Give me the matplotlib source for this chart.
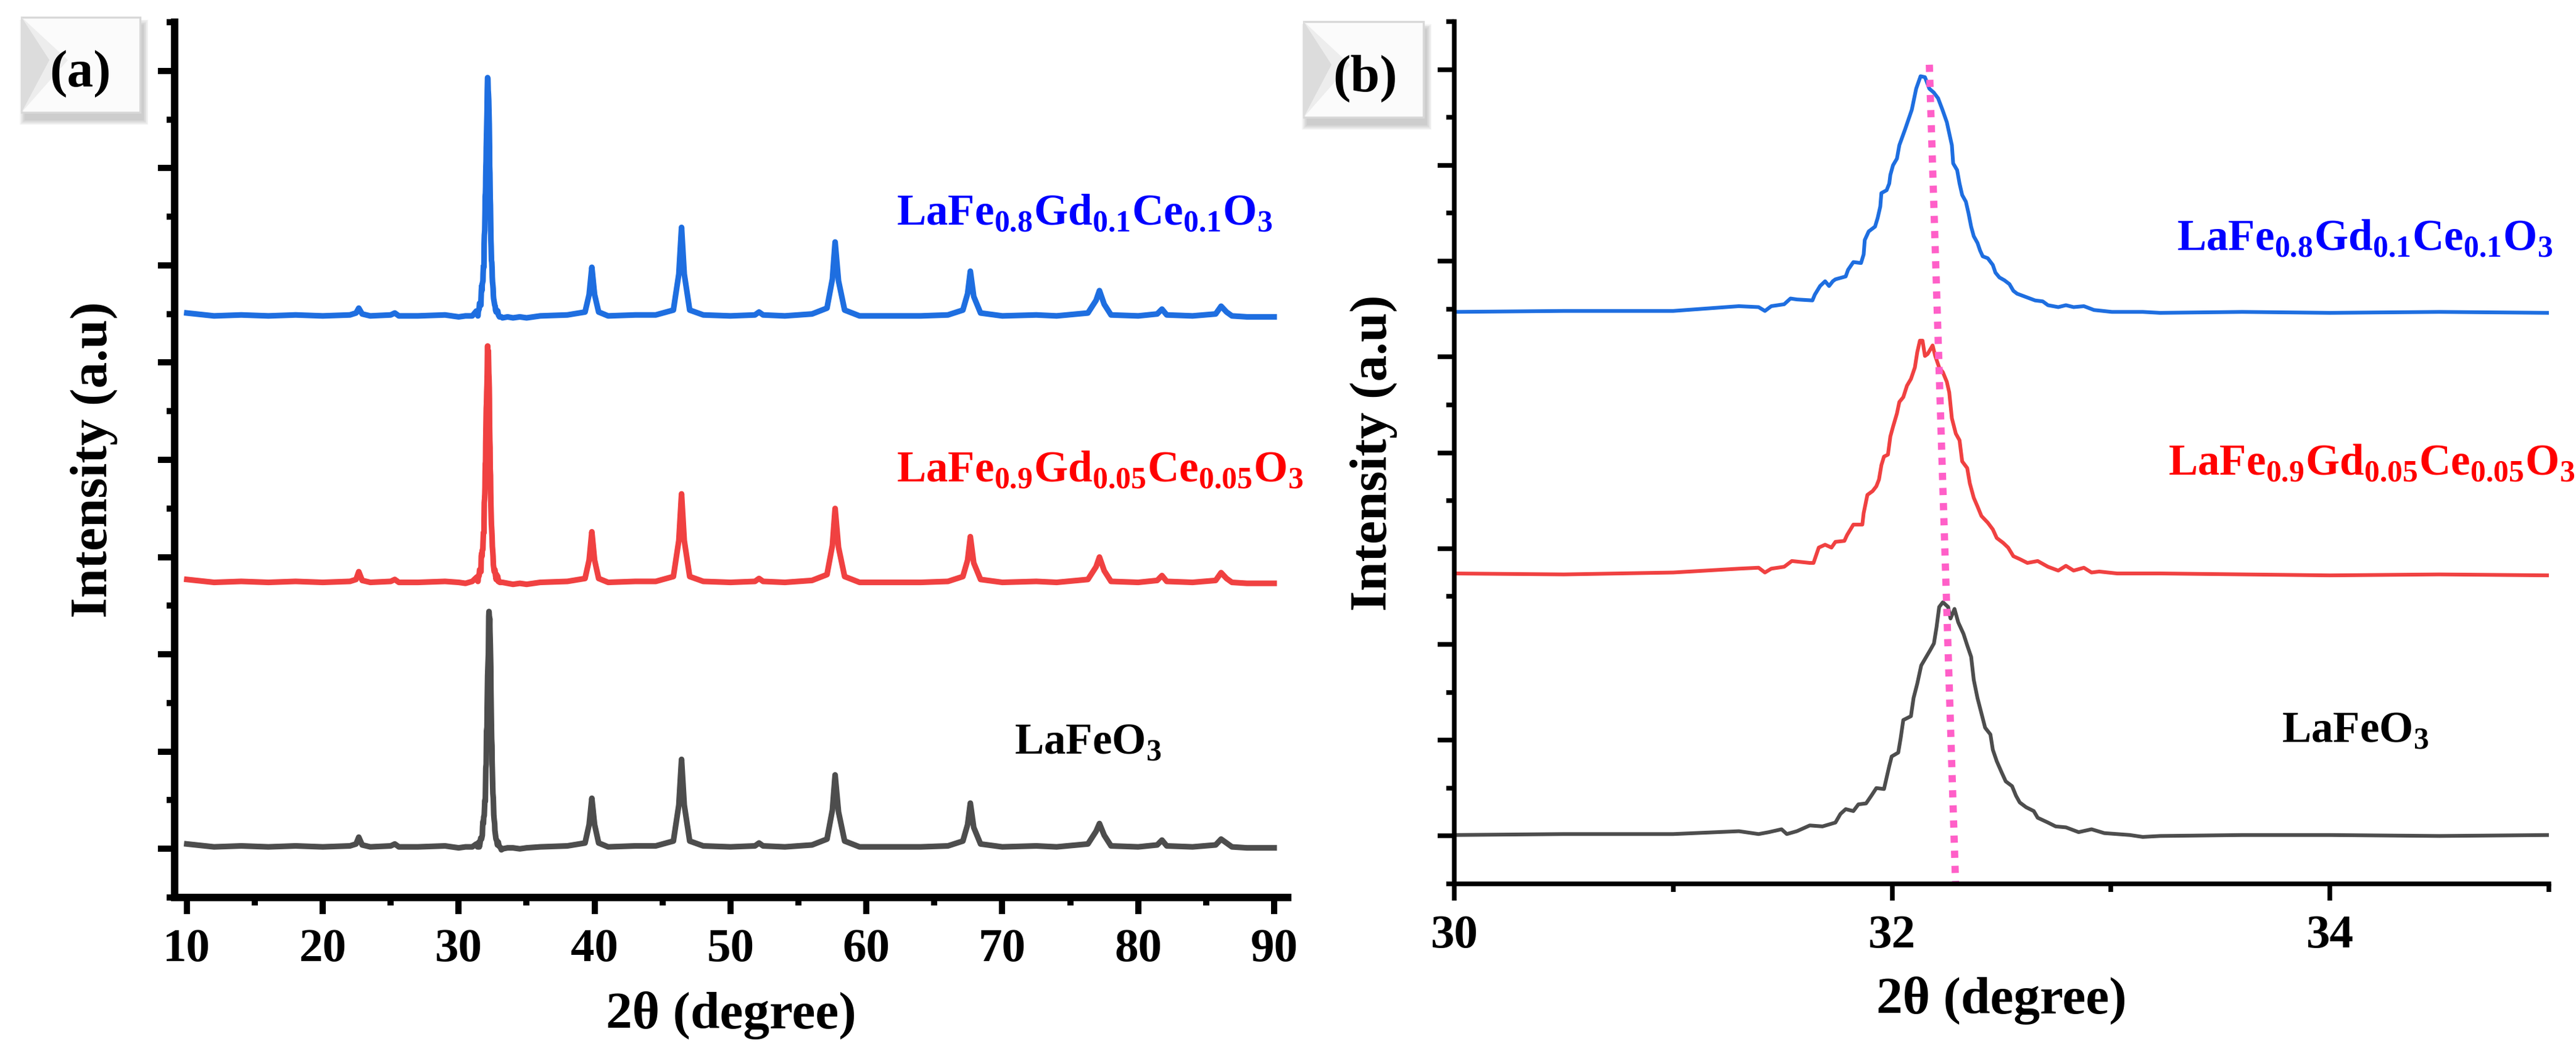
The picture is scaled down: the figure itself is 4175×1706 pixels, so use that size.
import numpy as np
import matplotlib.pyplot as plt
from matplotlib.ticker import MultipleLocator
from matplotlib.patches import Rectangle, Polygon

plt.rcParams['font.family'] = 'Liberation Serif'
plt.rcParams['font.weight'] = 'bold'
plt.rcParams['mathtext.fontset'] = 'custom'
plt.rcParams['mathtext.rm'] = 'Liberation Serif'
plt.rcParams['mathtext.bf'] = 'Liberation Serif:bold'

W, H = 4175, 1706

# ---- traced XRD patterns (2theta in degree, stacked intensity in a.u.) ----
tt_lfo = [10.0, 12.0, 14.0, 16.0, 18.0, 20.0, 22.0, 22.45, 22.65, 22.9, 23.5, 25.0, 25.3, 25.6, 27.0, 29.0,
          30.0, 30.5, 31.0, 31.3, 31.39, 31.437, 31.495, 31.519, 31.565, 31.624, 31.682, 31.741, 31.764, 31.788,
          31.823, 31.846, 31.881, 31.905, 31.928, 31.963, 31.975, 31.987, 31.998, 32.028, 32.039, 32.051, 32.086,
          32.098, 32.115, 32.133, 32.156, 32.174, 32.191, 32.203, 32.215, 32.232, 32.256, 32.267, 32.285, 32.302,
          32.326, 32.343, 32.361, 32.373, 32.39, 32.408, 32.425, 32.449, 32.46, 32.478, 32.501, 32.519, 32.548,
          32.566, 32.583, 32.612, 32.647, 32.665, 32.712, 32.747, 32.794, 32.852, 32.911, 32.969, 33.028, 33.086,
          33.145, 33.224, 33.6, 34.0, 34.5, 35.0, 36.0, 38.0, 39.3, 39.6, 39.8, 40.0, 40.3, 41.0, 43.0, 44.5,
          45.8, 46.2, 46.4, 46.6, 47.0, 48.0, 50.0, 51.8, 52.1, 52.4, 54.0, 56.0, 57.1, 57.5, 57.7, 57.95, 58.4,
          59.5, 62.0, 64.0, 66.0, 67.1, 67.45, 67.65, 67.9, 68.4, 70.0, 72.5, 74.0, 76.3, 76.9, 77.15, 77.5,
          78.0, 80.0, 81.4, 81.75, 82.1, 84.0, 85.7, 86.1, 86.5, 86.9, 88.0, 90.0]
int_lfo = [0.05, 0.02, 0.03, 0.02, 0.03, 0.02, 0.03, 0.05, 0.12, 0.04, 0.02, 0.03, 0.05, 0.02, 0.02, 0.03,
           0.01, 0.02, 0.02, 0.05, 0.02, 0.04, 0.07, 0.02, 0.05, 0.11, 0.10, 0.14, 0.23, 0.28,
           0.26, 0.33, 0.34, 0.42, 0.50, 0.49, 0.61, 0.73, 0.83, 0.87, 1.02, 1.21, 1.25,
           1.44, 1.59, 1.78, 1.87, 1.94, 2.01, 2.18, 2.39, 2.44, 2.39, 2.27, 2.37, 2.23,
           2.11, 1.99, 1.87, 1.63, 1.44, 1.28, 1.13, 1.06, 0.90, 0.78, 0.66, 0.57, 0.52,
           0.42, 0.35, 0.30, 0.26, 0.19, 0.14, 0.10, 0.09, 0.04, 0.07, 0.03, 0.02, 0.01,
           -0.01, 0.00, 0.01, 0.01, 0.00, 0.01, 0.02, 0.03, 0.06, 0.25, 0.52, 0.25, 0.06, 0.02, 0.03, 0.03,
           0.08, 0.45, 0.92, 0.45, 0.08, 0.03, 0.02, 0.03, 0.06, 0.03, 0.02, 0.04, 0.10, 0.40, 0.76, 0.38, 0.08,
           0.02, 0.02, 0.02, 0.03, 0.08, 0.25, 0.47, 0.22, 0.05, 0.02, 0.03, 0.02, 0.05, 0.18, 0.26, 0.14,
           0.03, 0.02, 0.04, 0.09, 0.03, 0.02, 0.04, 0.10, 0.06, 0.02, 0.01, 0.01]

tt_gc05 = [10.0, 12.0, 14.0, 16.0, 18.0, 20.0, 22.0, 22.45, 22.65, 22.9, 23.5, 25.0, 25.3, 25.6, 27.0, 29.0,
           30.0, 30.5, 31.0, 31.3, 31.39, 31.419, 31.448, 31.507, 31.542, 31.624, 31.641, 31.665, 31.694, 31.723,
           31.741, 31.782, 31.794, 31.823, 31.864, 31.87, 31.887, 31.911, 31.928, 31.94, 31.951, 31.963, 31.981,
           31.992, 32.004, 32.022, 32.033, 32.051, 32.068, 32.086, 32.104, 32.115, 32.127, 32.139, 32.15, 32.162,
           32.185, 32.197, 32.215, 32.232, 32.25, 32.261, 32.273, 32.291, 32.308, 32.32, 32.343, 32.355, 32.373,
           32.39, 32.408, 32.437, 32.46, 32.478, 32.507, 32.53, 32.554, 32.583, 32.618, 32.665, 32.712, 32.759,
           32.794, 32.829, 32.876, 32.911, 32.946, 33.028, 33.086, 33.224, 33.6, 34.0, 34.5, 35.0, 36.0, 38.0,
           39.3, 39.6, 39.8, 40.0, 40.3, 41.0, 43.0, 44.5, 45.8, 46.2, 46.4, 46.6, 47.0, 48.0, 50.0, 51.8, 52.1,
           52.4, 54.0, 56.0, 57.1, 57.5, 57.7, 57.95, 58.4, 59.5, 62.0, 64.0, 66.0, 67.1, 67.45, 67.65, 67.9,
           68.4, 70.0, 72.5, 74.0, 76.3, 76.9, 77.15, 77.5, 78.0, 80.0, 81.4, 81.75, 82.1, 84.0, 85.7, 86.1,
           86.5, 86.9, 88.0, 90.0]
int_gc05 = [2.77, 2.74, 2.75, 2.74, 2.75, 2.74, 2.75, 2.77, 2.85, 2.76, 2.74, 2.75, 2.77, 2.74, 2.74, 2.75,
            2.74, 2.73, 2.75, 2.79, 2.80, 2.75, 2.79, 2.81, 2.87, 2.85, 2.85, 3.01, 3.04, 3.01,
            3.07, 3.08, 3.14, 3.25, 3.25, 3.37, 3.56, 3.60, 3.65, 3.72, 3.87, 3.96, 3.98,
            4.17, 4.27, 4.41, 4.53, 4.58, 4.70, 4.77, 4.89, 5.05, 5.17, 5.17, 5.01, 5.03,
            5.12, 5.01, 4.89, 4.84, 4.74, 4.63, 4.36, 4.20, 4.13, 3.91, 3.84, 3.68, 3.53,
            3.44, 3.34, 3.27, 3.20, 3.11, 3.06, 3.01, 2.92, 2.89, 2.85, 2.87, 2.81, 2.77,
            2.82, 2.77, 2.80, 2.75, 2.76, 2.74, 2.74, 2.74, 2.73, 2.72, 2.73, 2.72, 2.74, 2.75,
            2.78, 2.97, 3.26, 2.97, 2.78, 2.74, 2.75, 2.75, 2.80, 3.17, 3.65, 3.17, 2.80, 2.75, 2.74, 2.75, 2.78,
            2.75, 2.74, 2.76, 2.82, 3.12, 3.50, 3.10, 2.80, 2.74, 2.74, 2.74, 2.75, 2.80, 2.97, 3.21, 2.94,
            2.77, 2.74, 2.75, 2.74, 2.77, 2.90, 3.00, 2.86, 2.75, 2.74, 2.76, 2.81, 2.75, 2.74, 2.76, 2.84,
            2.78, 2.74, 2.73, 2.73]

tt_gc10 = [10.0, 12.0, 14.0, 16.0, 18.0, 20.0, 22.0, 22.45, 22.65, 22.9, 23.5, 25.0, 25.3, 25.6, 27.0, 29.0,
           30.0, 30.5, 31.0, 31.3, 31.39, 31.419, 31.448, 31.507, 31.536, 31.565, 31.636, 31.647, 31.671, 31.694,
           31.712, 31.729, 31.741, 31.788, 31.799, 31.823, 31.858, 31.87, 31.875, 31.893, 31.922, 31.934, 31.946,
           31.951, 31.975, 31.987, 31.992, 32.004, 32.022, 32.033, 32.06, 32.09, 32.11, 32.13, 32.15, 32.17,
           32.19, 32.21, 32.23, 32.25, 32.273, 32.279, 32.297, 32.308, 32.32, 32.337, 32.349, 32.361, 32.373,
           32.39, 32.402, 32.414, 32.437, 32.46, 32.472, 32.49, 32.513, 32.536, 32.554, 32.571, 32.618, 32.653,
           32.688, 32.712, 32.759, 32.794, 32.829, 32.876, 32.922, 33.004, 33.086, 33.145, 33.224, 33.6, 34.0,
           34.5, 35.0, 36.0, 38.0, 39.3, 39.6, 39.8, 40.0, 40.3, 41.0, 43.0, 44.5, 45.8, 46.2, 46.4, 46.6, 47.0,
           48.0, 50.0, 51.8, 52.1, 52.4, 54.0, 56.0, 57.1, 57.5, 57.7, 57.95, 58.4, 59.5, 62.0, 64.0, 66.0,
           67.1, 67.45, 67.65, 67.9, 68.4, 70.0, 72.5, 74.0, 76.3, 76.9, 77.15, 77.5, 78.0, 80.0, 81.4, 81.75,
           82.1, 84.0, 85.7, 86.1, 86.5, 86.9, 88.0, 90.0]
int_gc10 = [5.51, 5.48, 5.49, 5.48, 5.49, 5.48, 5.49, 5.51, 5.56, 5.50, 5.48, 5.49, 5.51, 5.48, 5.48, 5.49,
            5.47, 5.48, 5.48, 5.53, 5.52, 5.48, 5.53, 5.55, 5.61, 5.60, 5.59, 5.65, 5.74, 5.79,
            5.74, 5.79, 5.81, 5.84, 5.91, 5.99, 5.98, 6.07, 6.22, 6.31, 6.36, 6.45, 6.57,
            6.71, 6.74, 6.81, 6.90, 7.00, 7.07, 7.21, 7.38, 7.58, 7.80, 7.93, 7.92, 7.80,
            7.76, 7.70, 7.58, 7.45, 7.21, 7.02, 6.95, 6.81, 6.69, 6.62, 6.50, 6.36, 6.26,
            6.19, 6.11, 6.05, 6.03, 5.96, 5.88, 5.83, 5.80, 5.76, 5.69, 5.66, 5.62, 5.59,
            5.58, 5.54, 5.52, 5.54, 5.52, 5.53, 5.49, 5.47, 5.47, 5.47, 5.46, 5.47, 5.46,
            5.47, 5.46, 5.48, 5.49, 5.52, 5.70, 5.98, 5.70, 5.52, 5.48, 5.49, 5.49, 5.54, 5.91, 6.39, 5.91, 5.54,
            5.49, 5.48, 5.49, 5.52, 5.49, 5.48, 5.50, 5.56, 5.86, 6.24, 5.84, 5.54, 5.48, 5.48, 5.48, 5.49,
            5.54, 5.71, 5.94, 5.68, 5.51, 5.48, 5.49, 5.48, 5.51, 5.64, 5.74, 5.60, 5.49, 5.48, 5.50, 5.55,
            5.49, 5.48, 5.50, 5.58, 5.52, 5.48, 5.47, 5.47]

# peak-shift guide line in panel (b)
shift_tt = [32.17, 32.29]
shift_int = [8.05, -0.5]

labels_math = [r'$\mathbf{LaFe}_{\mathrm{0.8}}\mathbf{Gd}_{\mathrm{0.1}}\mathbf{Ce}_{\mathrm{0.1}}\mathbf{O}_{\mathrm{3}}$',
               r'$\mathbf{LaFe}_{\mathrm{0.9}}\mathbf{Gd}_{\mathrm{0.05}}\mathbf{Ce}_{\mathrm{0.05}}\mathbf{O}_{\mathrm{3}}$',
               r'$\mathbf{LaFeO}_{\mathrm{3}}$']
line_colors = ['#1E6EE0', '#F04141', '#4D4D4D']
text_colors = ['#0000FF', '#FF0000', '#000000']
# label anchors (left, baseline)
lab_pos_a = [(62.2, 6.42), (62.2, 3.78), (70.9, 0.98)]
lab_pos_b = [(33.30, 6.12), (33.26, 3.77), (33.78, 0.98)]

series = [(tt_gc10, int_gc10), (tt_gc05, int_gc05), (tt_lfo, int_lfo)]


def style_axis(ax, spine_lw, tick_w):
    for s in ['top', 'right']:
        ax.spines[s].set_visible(False)
    for s in ['left', 'bottom']:
        ax.spines[s].set_linewidth(spine_lw)
    ax.tick_params(which='major', direction='out', length=6.4, width=tick_w, labelsize=18.5, pad=5.5)
    ax.tick_params(which='minor', direction='out', length=3.2, width=tick_w)
    ax.tick_params(axis='y', labelleft=False)
    ax.yaxis.set_major_locator(MultipleLocator(1))
    ax.yaxis.set_minor_locator(MultipleLocator(0.5))
    ax.set_ylim(-0.5, 8.5)


def panel_tag(fig, x0, y0, x1, y1, cx, cy, txt):
    fx = lambda px: px / W
    fy = lambda py: 1 - py / H
    for k in range(6):
        g = 16 - 3 * k
        fig.add_artist(Rectangle((fx(x0 + 5 - g / 2), fy(y1 + 12 + g / 2)), (x1 - x0 + g) / W, (y1 - y0 + g) / H,
                                 transform=fig.transFigure, facecolor='#7a7a7a', alpha=0.07, edgecolor='none'))
    fig.add_artist(Rectangle((fx(x0), fy(y1)), (x1 - x0) / W, (y1 - y0) / H, transform=fig.transFigure,
                             facecolor='#FBFBFB', edgecolor='#D8D8D8', lw=0.8))
    ym = y0 + 0.45 * (y1 - y0)
    fig.add_artist(Polygon([(fx(x0), fy(y0)), (fx(x0 + 75), fy(ym)), (fx(x0), fy(y1))], closed=True,
                           transform=fig.transFigure, facecolor='#EDEDED', edgecolor='none'))
    fig.add_artist(Polygon([(fx(x0), fy(y0)), (fx(x0 + 45), fy(ym)), (fx(x0), fy(y1))], closed=True,
                           transform=fig.transFigure, facecolor='#DCDCDC', edgecolor='none'))
    fig.text(fx(cx), fy(cy), txt, ha='center', va='center', fontsize=20.5, fontweight='bold')


fig = plt.figure(figsize=(W / 300, H / 300), dpi=300)
ax1 = fig.add_axes([283 / W, 1 - 1454 / H, 1804 / W, 1418 / H])
ax2 = fig.add_axes([2357 / W, 1 - 1432 / H, 1774 / W, 1397 / H])

# panel (a): full pattern
for (tt, inten), c in zip(series, line_colors):
    ax1.plot(tt, inten, color=c, lw=2.2)
for lab, (x, y), c in zip(labels_math, lab_pos_a, text_colors):
    ax1.text(x, y, lab, color=c, fontsize=17, ha='left', va='baseline', clip_on=False)
style_axis(ax1, 2.9, 2.4)
ax1.set_xlim(9.1, 91.0)
ax1.xaxis.set_major_locator(MultipleLocator(10))
ax1.xaxis.set_minor_locator(MultipleLocator(5))

# panel (b): zoom on the main reflection
for (tt, inten), c in zip(series, line_colors):
    ax2.plot(tt, inten, color=c, lw=1.45)
ax2.plot(shift_tt, shift_int, color='#FF5FC8', lw=2.8, ls=(0, (1, 1.1)))
for lab, (x, y), c in zip(labels_math, lab_pos_b, text_colors):
    ax2.text(x, y, lab, color=c, fontsize=17, ha='left', va='baseline', clip_on=False)
style_axis(ax2, 1.8, 1.8)
ax2.set_xlim(30, 35)
ax2.xaxis.set_major_locator(MultipleLocator(2))
ax2.xaxis.set_minor_locator(MultipleLocator(1))

for ax, span in [(ax1, 1804), (ax2, 1774)]:
    ax.set_xlabel('2θ (degree)', fontsize=20.5, fontweight='bold', va='center')
    ax.set_ylabel('Intensity (a.u)', fontsize=20.5, fontweight='bold', va='center')
    ax.yaxis.set_label_coords(-131 / span, 0.5)
ax1.xaxis.set_label_coords(0.5, -191 / 1418)
ax2.xaxis.set_label_coords(0.5, -189 / 1397)

panel_tag(fig, 35, 28, 227, 182, 130, 119, '(a)')
panel_tag(fig, 2113, 35, 2307, 190, 2213, 127, '(b)')

fig.savefig('out.png', dpi=300)
